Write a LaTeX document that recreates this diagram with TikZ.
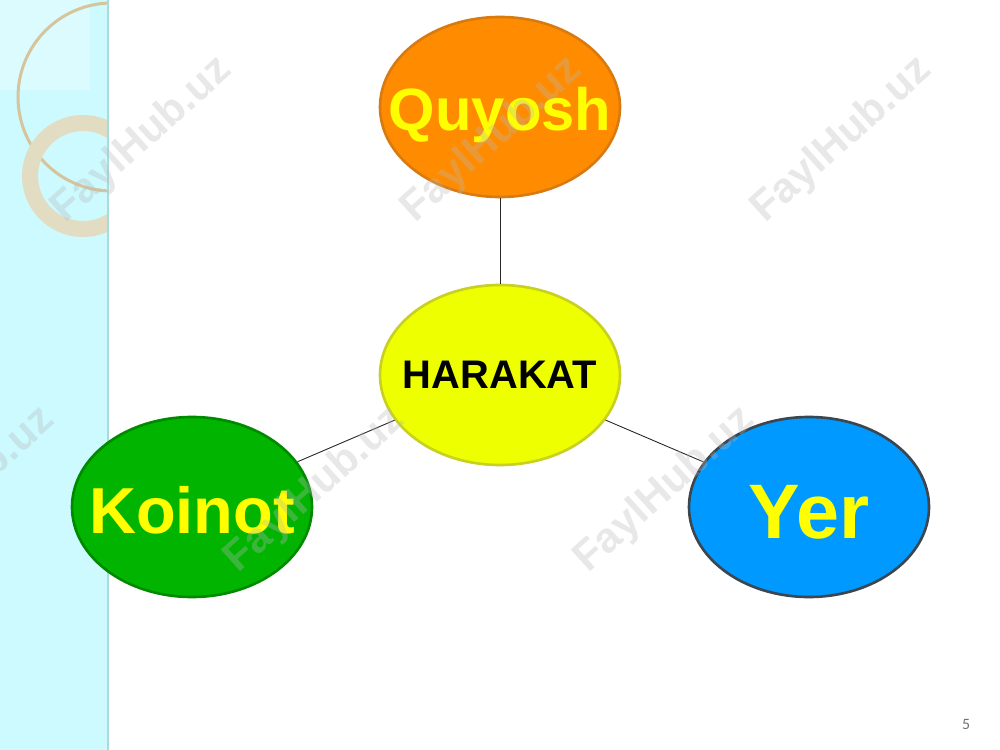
\documentclass[tikz,border=0pt]{standalone}
\usepackage{fontspec}
\setmainfont{Liberation Sans}
\newfontfamily\pagefont{Carlito}
\usetikzlibrary{shapes.geometric}
\definecolor{stripcyan}{HTML}{CCFAFF}
\definecolor{stripedge}{HTML}{A8DCDC}
\definecolor{ringtan}{HTML}{D6C49C}
\definecolor{ringbeige}{HTML}{E2DDC2}
\definecolor{orangefill}{HTML}{FF8C00}
\definecolor{orangeline}{HTML}{D97A10}
\definecolor{yellowfill}{HTML}{EEFF00}
\definecolor{yellowline}{HTML}{C8D020}
\definecolor{greenfill}{HTML}{00B400}
\definecolor{greenline}{HTML}{008A00}
\definecolor{bluefill}{HTML}{0099FF}
\definecolor{blueline}{HTML}{3C4650}
\definecolor{txtyellow}{HTML}{FFFF00}
\definecolor{wmgray}{HTML}{B8B8B8}
\newlength{\px}
\setlength{\px}{0.02cm}
\tikzset{
  blob/.style={ellipse, minimum width=240\px, minimum height=180\px, inner sep=0pt, line width=1.5pt},
  link/.style={draw=black!85, line width=0.5pt},
  wmark/.style={text=wmgray, opacity=0.32, rotate=42, font=\bfseries\fontsize{24}{24}\selectfont}
}
\begin{document}
\begin{tikzpicture}[x=0.02cm, y=-0.02cm]
\useasboundingbox (0,0) rectangle (1000,750);
\fill[white] (0,0) rectangle (1000,750);
% left strip
\fill[stripcyan] (0,0) rectangle (108,750);
\fill[white, opacity=0.3] (0,0) rectangle (90,90);
\draw[white!70!ringtan, line width=0.5pt] (88,0) arc[start angle=0, end angle=-90, radius=88];
\begin{scope}
\clip (0,0) rectangle (108,750);
\draw[ringtan, line width=3\px] (112,97) circle[radius=94];
\draw[ringbeige, line width=16\px] (83,176) circle[radius=53];
\end{scope}
\draw[stripedge, line width=2\px] (108,0) -- (108,750);
% nodes
\node[blob, draw=orangeline, fill=orangefill,
  label={[text=txtyellow, yshift=-8\px, font=\bfseries\fontsize{34}{34}\selectfont]center:Quyosh}] (q) at (500,107) {};
\node[blob, draw=yellowline, fill=yellowfill,
  label={[text=black, font=\bfseries\fontsize{22.7}{23}\selectfont]center:HARAKAT}] (h) at (500,375) {};
\node[blob, draw=greenline, fill=greenfill,
  label={[text=txtyellow, yshift=-3\px, font=\bfseries\fontsize{37}{37}\selectfont]center:Koinot}] (k) at (192,507) {};
\node[blob, draw=blueline, fill=bluefill,
  label={[text=txtyellow, yshift=-5\px, font=\bfseries\fontsize{44}{44}\selectfont]center:Yer}] (y) at (809,507) {};
% connectors
\draw[link] (q) -- (h);
\draw[link] (k) -- (h);
\draw[link] (y) -- (h);
% watermarks
\node[wmark] (w1) at (142,140) {FaylHub.uz};
\node[wmark] (w2) at (492,140) {FaylHub.uz};
\node[wmark] (w3) at (842,140) {FaylHub.uz};
\node[wmark] (w4) at (-35,490) {FaylHub.uz};
\node[wmark] (w5) at (315,490) {FaylHub.uz};
\node[wmark] (w6) at (665,490) {FaylHub.uz};
% page number
\node[text=black!55, font=\pagefont\fontsize{9}{9}\selectfont] (pn) at (966,724) {5};
\end{tikzpicture}
\end{document}
